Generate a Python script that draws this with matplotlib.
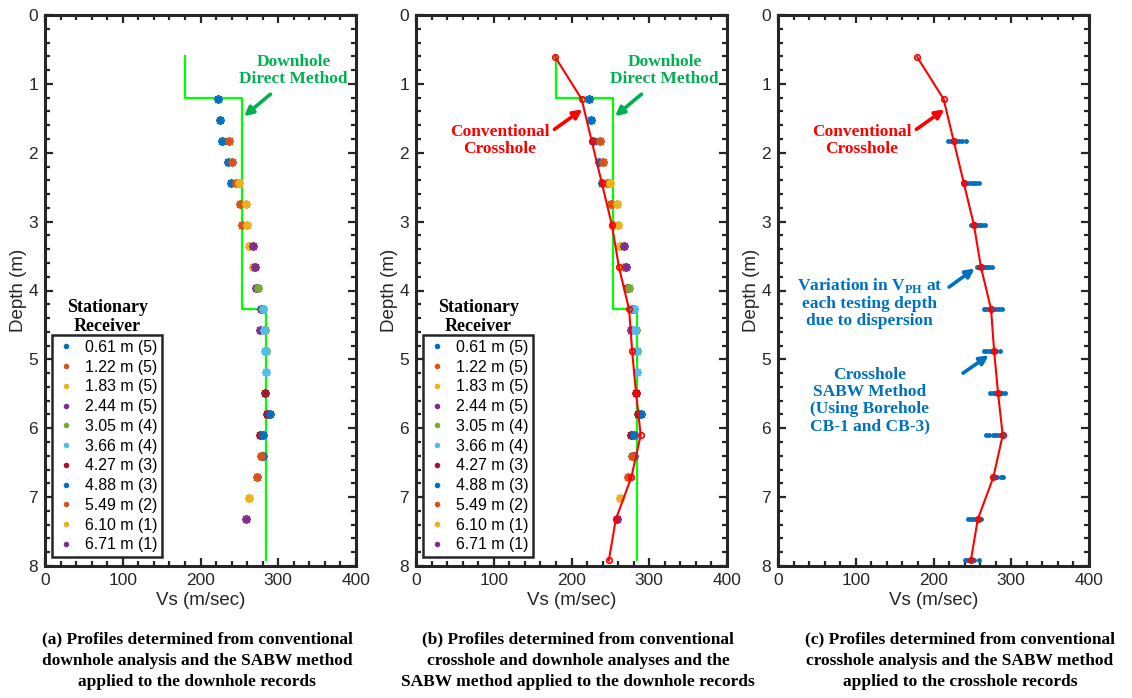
import numpy as np
import matplotlib
matplotlib.use("Agg")
import matplotlib.pyplot as plt
from matplotlib.lines import Line2D
from matplotlib.ticker import MultipleLocator

plt.rcParams['font.family'] = ['Liberation Sans', 'DejaVu Sans']
plt.rcParams['mathtext.fontset'] = 'custom'
plt.rcParams['mathtext.rm'] = 'Liberation Serif'
plt.rcParams['mathtext.bf'] = 'Liberation Serif:bold'

# ---- data ----
# downhole direct method (step profile)
dh_vs = [180, 180, 254, 254, 284, 284]
dh_depth = [0.6, 1.2, 1.2, 4.27, 4.27, 7.92]

# SABW on downhole records, one group per stationary receiver
rec_labels = ['0.61 m (5)', '1.22 m (5)', '1.83 m (5)', '2.44 m (5)', '3.05 m (4)',
              '3.66 m (4)', '4.27 m (3)', '4.88 m (3)', '5.49 m (2)', '6.10 m (1)',
              '6.71 m (1)']
rec_depths = [[1.22, 1.52, 1.83, 2.13, 2.44],
              [1.83, 2.13, 2.44, 2.74, 3.05],
              [2.44, 2.74, 3.05, 3.35, 3.66],
              [3.35, 3.66, 3.96, 4.27, 4.57],
              [3.96, 4.27, 4.57, 4.88],
              [4.27, 4.57, 4.88, 5.18],
              [5.49, 5.79, 6.10],
              [5.79, 6.10, 6.40],
              [6.40, 6.71],
              [7.01],
              [7.32]]
rec_vs = [[222, 225, 228, 235, 239],
          [237, 241, 246, 251, 254],
          [250, 258, 260, 263, 268],
          [268, 270, 272, 278, 276],
          [274, 280, 283, 284],
          [280, 282, 283, 284],
          [283, 285, 277],
          [289, 281, 281],
          [278, 273],
          [263],
          [258]]
mat_colors = ['#0072BD', '#D95319', '#EDB120', '#7E2F8E', '#77AC30', '#4DBEEE',
              '#A2142F', '#0072BD', '#D95319', '#EDB120', '#7E2F8E']

# conventional crosshole
ch_depth = [0.61, 1.22, 1.83, 2.44, 3.05, 3.66, 4.27, 4.88, 5.49, 6.10, 6.71, 7.32, 7.92]
ch_vs = [179, 213, 226, 239, 252, 261, 274, 278, 283, 289, 277, 257, 248]

# crosshole SABW, spread of V_PH at each testing depth
disp_depth = [1.83, 2.44, 3.05, 3.66, 4.27, 4.88, 5.49, 6.10, 6.71, 7.32, 7.92]
disp_vs = [[219, 222, 225, 229, 233, 237, 242],
           [239, 242, 246, 249, 252, 255, 258],
           [248, 251, 254, 257, 260, 263, 266],
           [256, 259, 262, 266, 269, 272, 275],
           [265, 268, 272, 276, 280, 284, 288],
           [265, 268, 271, 274, 277, 281, 285],
           [273, 276, 279, 282, 285, 288, 292],
           [268, 272, 276, 279, 282, 285, 287, 290],
           [276, 279, 282, 287, 290],
           [245, 248, 251, 255, 258, 261],
           [240, 243, 246, 249, 252, 258]]

captions = ['(a) Profiles determined from conventional\ndownhole analysis and the SABW method\napplied to the downhole records',
            '(b) Profiles determined from conventional\ncrosshole and downhole analyses and the\nSABW method applied to the downhole records',
            '(c) Profiles determined from conventional\ncrosshole analysis and the SABW method\napplied to the crosshole records']

SERIF = ['Liberation Serif', 'DejaVu Serif']
GREEN_TXT = '#00B050'
BLUE_TXT = '#0070C0'
AX_COL = '#262626'


def style_axis(ax):
    ax.set_xlim(0, 400)
    ax.set_ylim(8, 0)
    ax.xaxis.set_major_locator(MultipleLocator(100))
    ax.xaxis.set_minor_locator(MultipleLocator(20))
    ax.yaxis.set_major_locator(MultipleLocator(1))
    ax.yaxis.set_minor_locator(MultipleLocator(0.2))
    ax.tick_params(which='both', direction='in', top=True, right=True,
                   colors=AX_COL, labelsize=12.5, labelcolor=AX_COL)
    ax.tick_params(which='major', length=6, width=1.6, pad=5)
    ax.tick_params(which='minor', length=3.5, width=1.6)
    for sp in ax.spines.values():
        sp.set_linewidth(2.2)
        sp.set_color(AX_COL)
    ax.set_xlabel('Vs (m/sec)', fontsize=13.5, color=AX_COL, labelpad=3)
    ax.set_ylabel('Depth (m)', fontsize=13.5, color=AX_COL, labelpad=1)


def draw_sabw_downhole(ax):
    for d, v, c in zip(rec_depths, rec_vs, mat_colors):
        ax.plot(v, d, ls='none', marker=(8, 2, 0), color=c, markersize=6.5,
                markeredgewidth=1.3, zorder=3)
    handles = [Line2D([], [], ls='none', marker='.', color=c, markersize=6)
               for c in mat_colors]
    leg = ax.legend(handles, rec_labels, loc='lower left',
                    bbox_to_anchor=(0.022, 0.016), fontsize=11.4, frameon=True,
                    fancybox=False, edgecolor=AX_COL, framealpha=1,
                    handlelength=1.2, handletextpad=0.6, labelspacing=0.3,
                    borderpad=0.3, borderaxespad=0)
    leg.get_frame().set_linewidth(1.8)
    ax.text(0.2, 0.452, 'Stationary\nReceiver', transform=ax.transAxes,
            ha='center', va='center', fontsize=13, fontweight='bold',
            family=SERIF, linespacing=1.1, color='black')


def draw_downhole_label(ax):
    ax.plot(dh_vs, dh_depth, color='#00FF00', lw=1.6, zorder=2)
    ax.text(320, 0.8, 'Downhole\nDirect Method', ha='center', va='center',
            fontsize=12.5, fontweight='bold', family=SERIF, color=GREEN_TXT,
            linespacing=1.1)
    ax.annotate('', xy=(256, 1.47), xytext=(290, 1.15),
                arrowprops=dict(arrowstyle='-|>', color=GREEN_TXT, lw=2.6,
                                mutation_scale=13, shrinkA=0, shrinkB=0))


def draw_crosshole(ax):
    ax.plot(ch_vs, ch_depth, color='#FF0000', lw=1.5, marker='o', markersize=4,
            markerfacecolor='none', markeredgewidth=1.2, zorder=4, clip_on=False)
    ax.text(108, 1.82, 'Conventional\nCrosshole', ha='center', va='center',
            fontsize=12.5, fontweight='bold', family=SERIF, color='#FF0000',
            linespacing=1.1)
    ax.annotate('', xy=(214, 1.37), xytext=(178, 1.66),
                arrowprops=dict(arrowstyle='-|>', color='#FF0000', lw=2.6,
                                mutation_scale=13, shrinkA=0, shrinkB=0))


fig = plt.figure(figsize=(11.32, 6.98), dpi=100)
lefts = [45 / 1132, 416 / 1132, 778 / 1132]
bottom = 1 - 566 / 698
height = 551 / 698
width = 311 / 1132
axes = [fig.add_axes([l, bottom, width, height]) for l in lefts]

for ax in axes:
    style_axis(ax)

# (a)
draw_downhole_label(axes[0])
draw_sabw_downhole(axes[0])

# (b)
draw_downhole_label(axes[1])
draw_sabw_downhole(axes[1])
draw_crosshole(axes[1])

# (c)
ax = axes[2]
for d, v in zip(disp_depth, disp_vs):
    ax.plot(v, [d] * len(v), ls='none', marker='.', color='#0072BD',
            markersize=5, zorder=3, clip_on=False)
draw_crosshole(ax)
ax.text(118, 4.17, 'Variation in V$_{\\mathbf{PH}}$ at\neach testing depth\ndue to dispersion',
        ha='center', va='center', fontsize=12.5, fontweight='bold', family=SERIF,
        color=BLUE_TXT, linespacing=1.1)
ax.annotate('', xy=(253, 3.68), xytext=(220, 3.95),
            arrowprops=dict(arrowstyle='-|>', color=BLUE_TXT, lw=2.6,
                            mutation_scale=13, shrinkA=0, shrinkB=0))
ax.text(118, 5.6, 'Crosshole\nSABW Method\n(Using Borehole\nCB-1 and CB-3)',
        ha='center', va='center', fontsize=12.5, fontweight='bold', family=SERIF,
        color=BLUE_TXT, linespacing=1.1)
ax.annotate('', xy=(271, 4.94), xytext=(238, 5.2),
            arrowprops=dict(arrowstyle='-|>', color=BLUE_TXT, lw=2.6,
                            mutation_scale=13, shrinkA=0, shrinkB=0))

cap_x = [197 / 1132, 578 / 1132, 960 / 1132]
for x, txt in zip(cap_x, captions):
    fig.text(x, 1 - 661 / 698, txt, ha='center', va='center', fontsize=12.5,
             fontweight='bold', family=SERIF, linespacing=1.45, color='black')

fig.savefig('out.png', dpi=100)
